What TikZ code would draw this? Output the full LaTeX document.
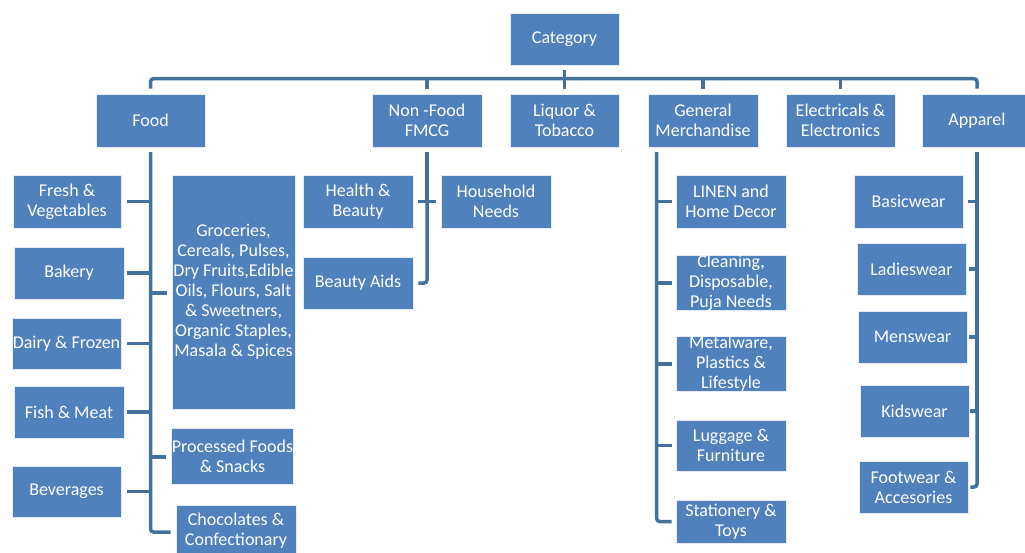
\documentclass[tikz,border=0pt]{standalone}
\usepackage{fontspec}
\setmainfont{Carlito}
\usetikzlibrary{calc}
\definecolor{boxblue}{HTML}{4F81BD}
\definecolor{lineblue}{HTML}{41719C}
\begin{document}
\begin{tikzpicture}[x=1pt,y=-1pt,
   box/.style={fill=boxblue,draw=white!85!boxblue,line width=0.6pt,text=white,align=center,
     inner sep=0pt,minimum width=109pt,minimum height=53pt,
     font=\fontsize{18}{20}\selectfont},
   conn/.style={lineblue,line width=3.5pt},
   lastconn/.style={lineblue,line width=3.5pt,rounded corners=3pt}]
   \useasboundingbox (0,0) rectangle (1025,552);
   \node [box,minimum height=52pt] (cat) at (564.5,39) {Category};
   \node [box] (food) at (150.5,120.5) {Food};
   \node [box,minimum width=110pt] (nonfood) at (427,120.5) {Non -Food\\FMCG};
   \node [box] (liquor) at (564.5,120.5) {Liquor \&\\Tobacco};
   \node [box,minimum width=110pt] (genmer) at (703,120.5) {General\\Merchandise};
   \node [box] (elec) at (840.5,120.5) {Electricals \&\\Electronics};
   \node [box] (apparel) at (977,120.5) {Apparel};
   \node [box,minimum width=108pt] (fresh) at (67,201.5) {Fresh \&\\Vegetables};
   \node [box,minimum width=110pt,minimum height=52pt] (bakery) at (69,273) {Bakery};
   \node [box,minimum height=51pt] (dairy) at (66.5,343.5) {Dairy \& Frozen};
   \node [box,minimum width=110pt,minimum height=52pt] (fish) at (69,412) {Fish \& Meat};
   \node [box,minimum height=51pt] (bev) at (66.5,491.5) {Beverages};
   \node [box,minimum width=123pt,minimum height=234pt] (groc) at (233.5,292)
     {Groceries,\\Cereals, Pulses,\\Dry Fruits,Edible\\Oils, Flours, Salt\\\& Sweetners,\\Organic Staples,\\Masala \& Spices};
   \node [box,minimum width=121pt,minimum height=56pt] (proc) at (232.5,456) {Processed Foods\\\& Snacks};
   \node [box,minimum width=120pt,minimum height=52pt] (choc) at (236,531) {Chocolates \&\\Confectionary};
   \node [box,minimum width=110pt] (health) at (358,201.5) {Health \&\\Beauty};
   \node [box,minimum width=110pt] (house) at (496,201.5) {Household\\Needs};
   \node [box,minimum width=110pt,minimum height=52pt] (beauty) at (358,283) {Beauty Aids};
   \node [box,minimum width=110pt] (linen) at (731,201.5) {LINEN and\\Home Decor};
   \node [box,minimum width=110pt,minimum height=52pt] (clean) at (731,283) {Cleaning,\\Disposable,\\Puja Needs};
   \node [box,minimum width=110pt,minimum height=52pt] (metal) at (731,364) {Metalware,\\Plastics \&\\Lifestyle};
   \node [box,minimum width=110pt,minimum height=51pt] (luggage) at (731,445.5) {Luggage \&\\Furniture};
   \node [box,minimum width=110pt,minimum height=43pt] (stat) at (731,521.5) {Stationery \&\\Toys};
   \node [box] (basic) at (908.5,201.5) {Basicwear};
   \node [box,minimum height=52pt] (ladies) at (911.5,269) {Ladieswear};
   \node [box,minimum height=52pt] (mens) at (912.5,337) {Menswear};
   \node [box,minimum height=52pt] (kids) at (914.5,411) {Kidswear};
   \node [box,minimum height=52pt] (foot) at (913.5,487) {Footwear \&\\Accesories};
   \draw [lastconn] ($(food.north)+(0,-5)$) -- ++(0,-10) -| ($(apparel.north)+(0,-5)$);
   \draw [conn] ($(cat.south)+(0,5)$) -- ($(liquor.north)+(0,-5)$);
   \draw [conn] ($(nonfood.north)+(0,-5)$) -- ++(0,-10);
   \draw [conn] ($(genmer.north)+(0,-5)$) -- ++(0,-10);
   \draw [conn] ($(elec.north)+(0,-5)$) -- ++(0,-10);
   \draw [conn] ($(food.south)+(0,5)$) |- ($(fresh.east)+(6,0)$);
   \draw [conn] ($(food.south)+(0,5)$) |- ($(bakery.east)+(3,0)$);
   \draw [conn] ($(food.south)+(0,5)$) |- ($(dairy.east)+(6,0)$);
   \draw [conn] ($(food.south)+(0,5)$) |- ($(fish.east)+(3,0)$);
   \draw [conn] ($(food.south)+(0,5)$) |- ($(bev.east)+(6,0)$);
   \draw [conn] ($(food.south)+(0,5)$) |- ($(groc.west)+(-5,1)$);
   \draw [conn] ($(food.south)+(0,5)$) |- ($(proc.west)+(-5,1)$);
   \draw [lastconn] ($(food.south)+(0,5)$) |- ($(choc.west)+(-5,1)$);
   \draw [conn] ($(nonfood.south)+(0,5)$) |- ($(health.east)+(5,0)$);
   \draw [conn] ($(nonfood.south)+(0,5)$) |- ($(house.west)+(-5,0)$);
   \draw [lastconn] ($(nonfood.south)+(0,5)$) |- ($(beauty.east)+(5,0)$);
   \draw [conn] ($(genmer.south west)+(9,5)$) |- ($(linen.west)+(-4,0)$);
   \draw [conn] ($(genmer.south west)+(9,5)$) |- ($(clean.west)+(-4,0)$);
   \draw [conn] ($(genmer.south west)+(9,5)$) |- ($(metal.west)+(-4,0)$);
   \draw [conn] ($(genmer.south west)+(9,5)$) |- ($(luggage.west)+(-4,0)$);
   \draw [lastconn] ($(genmer.south west)+(9,5)$) |- ($(stat.west)+(-4,0)$);
   \draw [conn] ($(apparel.south)+(0,5)$) |- ($(basic.east)+(5,0)$);
   \draw [conn] ($(apparel.south)+(0,5)$) |- ($(ladies.east)+(3,0)$);
   \draw [conn] ($(apparel.south)+(0,5)$) |- ($(mens.east)+(2,0)$);
   \draw [conn] ($(apparel.south)+(0,5)$) |- ($(kids.east)+(1,0)$);
   \draw [lastconn] ($(apparel.south)+(0,5)$) |- ($(foot.east)+(2,0)$);
\end{tikzpicture}
\end{document}
